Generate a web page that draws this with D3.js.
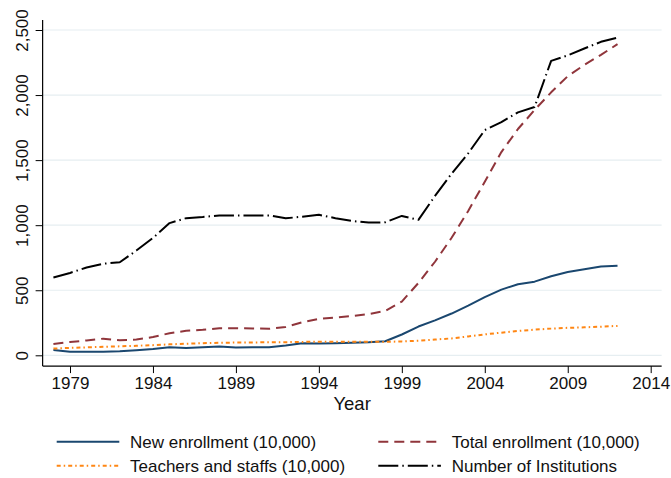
<!DOCTYPE html>
<html>
<head>
<meta charset="utf-8">
<script src="https://cdn.jsdelivr.net/npm/d3@7"></script>
<style>
  html, body { margin: 0; padding: 0; background: #fff; }
  svg { display: block; font-family: "Liberation Sans", Arial, Helvetica, sans-serif; }
</style>
</head>
<body>
<svg id="chart" width="671" height="478"></svg>
<script>
// Higher education in China, 1978-2012
const years = [1978, 1979, 1980, 1981, 1982, 1983, 1984, 1985, 1986, 1987,
               1988, 1989, 1990, 1991, 1992, 1993, 1994, 1995, 1996, 1997,
               1998, 1999, 2000, 2001, 2002, 2003, 2004, 2005, 2006, 2007,
               2008, 2009, 2010, 2011, 2012];

const newEnrollment = [40, 28, 28, 28, 32, 39, 48, 62, 57, 62,
                       67, 60, 61, 62, 75, 92, 90, 93, 97, 100,
                       108, 160, 221, 268, 321, 382, 447, 505, 546, 566,
                       608, 640, 662, 682, 689];

const totalEnrollment = [86, 102, 114, 128, 115, 121, 140, 170, 188, 196,
                         207, 208, 206, 204, 218, 254, 280, 291, 302, 317,
                         341, 413, 556, 719, 903, 1109, 1334, 1562, 1739, 1885,
                         2021, 2145, 2232, 2309, 2391];

const teachersStaffs = [52, 57, 61, 65, 69, 73, 78, 84, 89, 93,
                        96, 98, 99, 100, 101, 103, 104, 104, 104, 104,
                        103, 107, 112, 121, 130, 145, 161, 174, 187, 197,
                        205, 211, 215, 220, 226];

const institutions = [598, 633, 675, 704, 715, 805, 902, 1016, 1054, 1063,
                      1075, 1075, 1075, 1075, 1053, 1065, 1080, 1054, 1032, 1020,
                      1022, 1071, 1041, 1225, 1396, 1552, 1731, 1792, 1867, 1908,
                      2263, 2305, 2358, 2409, 2442];

const xTicks = [1979, 1984, 1989, 1994, 1999, 2004, 2009, 2014];
const yTicks = [0, 500, 1000, 1500, 2000, 2500];

const seriesNames = ["New enrollment (10,000)", "Total enrollment (10,000)",
                     "Teachers and staffs (10,000)", "Number of Institutions"];

const series = [
  { name: seriesNames[0], values: newEnrollment,   color: "#1a476f", dash: null,         width: 2 },
  { name: seriesNames[1], values: totalEnrollment, color: "#90353b", dash: "10,6",       width: 2 },
  { name: seriesNames[2], values: teachersStaffs,  color: "#ff8613", dash: "4,3,1.5,3",  width: 2 },
  { name: seriesNames[3], values: institutions,    color: "#000000", dash: "20,4,1.5,4", width: 2 }
];

const svg = d3.select("#chart");

const x = d3.scaleLinear().domain([1979, 2014]).range([70, 650.7]);
const y = d3.scaleLinear().domain([0, 2500]).range([355.3, 30]);

// plot region extends a little past the outer ticks
const xLo = 1977.35, xHi = 2014.66;
const yLo = -83, yHi = 2577;

// horizontal gridlines
svg.append("g")
  .selectAll("line")
  .data(yTicks)
  .join("line")
  .attr("x1", x(xLo)).attr("x2", x(xHi))
  .attr("y1", d => y(d)).attr("y2", d => y(d))
  .attr("stroke", "#e6eef1")
  .attr("stroke-width", 1.2);

// y axis
const yAxis = svg.append("g")
  .attr("transform", `translate(${x(xLo)},0)`)
  .call(d3.axisLeft(y).tickValues(yTicks).tickSize(7).tickPadding(0)
        .tickFormat(d3.format(",")));
yAxis.select(".domain").remove();
yAxis.selectAll(".tick line").attr("stroke", "#000");
yAxis.selectAll(".tick text")
  .attr("font-size", 17)
  .attr("fill", "#111")
  .attr("text-anchor", "middle")
  .attr("transform", "rotate(-90)")
  .attr("x", 0)
  .attr("y", -15)
  .attr("dy", 0);
yAxis.append("line")
  .attr("x1", 0).attr("x2", 0)
  .attr("y1", y(yHi)).attr("y2", y(yLo))
  .attr("stroke", "#000").attr("stroke-width", 1.2);

// x axis
const xAxis = svg.append("g")
  .attr("transform", `translate(0,${y(yLo)})`)
  .call(d3.axisBottom(x).tickValues(xTicks).tickSize(7).tickPadding(4)
        .tickFormat(d3.format("d")));
xAxis.select(".domain").remove();
xAxis.selectAll(".tick line").attr("stroke", "#000");
xAxis.selectAll(".tick text").attr("font-size", 17).attr("fill", "#111");
xAxis.append("line")
  .attr("x1", x(xLo)).attr("x2", x(xHi))
  .attr("y1", 0).attr("y2", 0)
  .attr("stroke", "#000").attr("stroke-width", 1.2);

svg.append("text")
  .attr("x", (x(xLo) + x(xHi)) / 2)
  .attr("y", 410)
  .attr("text-anchor", "middle")
  .attr("font-size", 18.5)
  .attr("fill", "#111")
  .text("Year");

// series lines
const line = d3.line()
  .x((d, i) => x(years[i]))
  .y(d => y(d));

svg.append("g")
  .selectAll("path")
  .data(series)
  .join("path")
  .attr("d", d => line(d.values))
  .attr("fill", "none")
  .attr("stroke", d => d.color)
  .attr("stroke-width", d => d.width)
  .attr("stroke-dasharray", d => d.dash)
  .attr("stroke-linejoin", "round");

// legend, two columns by two rows
const legendPos = [
  { sx: 56.7, tx: 130, ly: 441.7 },
  { sx: 378.3, tx: 451.7, ly: 441.7 },
  { sx: 56.7, tx: 130, ly: 465.7 },
  { sx: 378.3, tx: 451.7, ly: 465.7 }
];
const legend = svg.append("g");
series.forEach((s, i) => {
  const p = legendPos[i];
  legend.append("line")
    .attr("x1", p.sx).attr("x2", p.sx + 62.6)
    .attr("y1", p.ly).attr("y2", p.ly)
    .attr("stroke", s.color)
    .attr("stroke-width", s.width)
    .attr("stroke-dasharray", s.dash);
  legend.append("text")
    .attr("x", p.tx)
    .attr("y", p.ly + 6)
    .attr("font-size", 17)
    .attr("fill", "#111")
    .text(s.name);
});
</script>
</body>
</html>
